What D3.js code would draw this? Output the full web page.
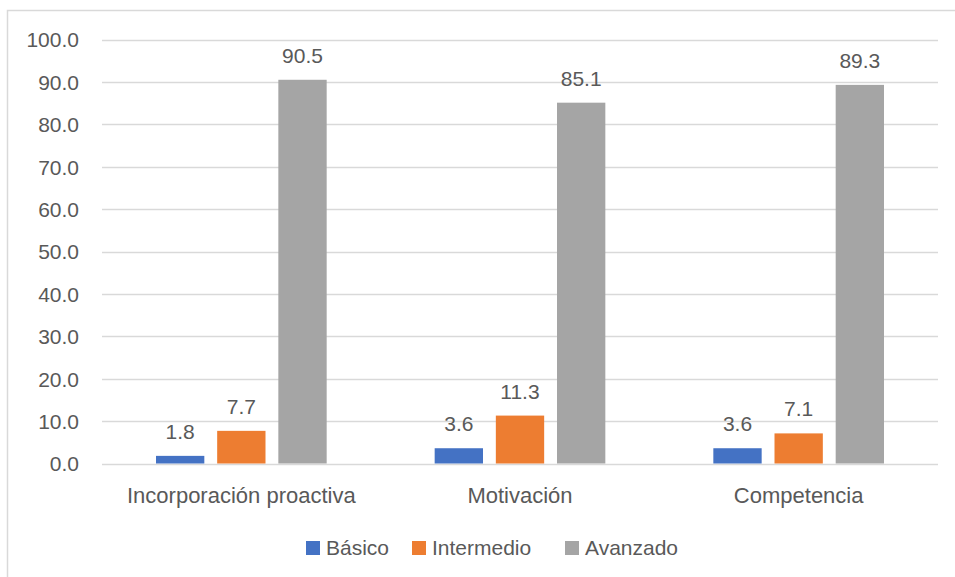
<!DOCTYPE html>
<html>
<head>
<meta charset="utf-8">
<script src="https://cdn.jsdelivr.net/npm/d3@7"></script>
<style>
  body { margin: 0; background: #fff; }
  text { font-family: "Liberation Sans", Arial, sans-serif; fill: #595959; }
</style>
</head>
<body>
<div id="chart"></div>
<script>
var categories = ["Incorporación proactiva", "Motivación", "Competencia"];
var seriesNames = ["Básico", "Intermedio", "Avanzado"];
var basico = [1.8, 3.6, 3.6];
var intermedio = [7.7, 11.3, 7.1];
var avanzado = [90.5, 85.1, 89.3];
var yTicks = [0, 10, 20, 30, 40, 50, 60, 70, 80, 90, 100];

// Colours per series.
var color = d3.scaleOrdinal()
  .domain(seriesNames)
  .range(["#4472C4", "#ED7D31", "#A5A5A5"]);

var width = 955;
var height = 577;
var margin = {top: 39, right: 17, bottom: 114, left: 102};

var svg = d3.select("#chart")
  .append("svg")
  .attr("width", width)
  .attr("height", height);

// Chart frame (cropped on the right and bottom like the picture).
svg.append("rect")
  .attr("x", 7.5)
  .attr("y", 10.5)
  .attr("width", 960)
  .attr("height", 580)
  .attr("fill", "none")
  .attr("stroke", "#d9d9d9")
  .attr("stroke-width", 1.5);

var plotW = width - margin.left - margin.right;
var plotH = height - margin.top - margin.bottom;
var g = svg.append("g")
  .attr("transform", "translate(" + margin.left + "," + margin.top + ")");

var y = d3.scaleLinear().domain([0, 100]).range([plotH + 0.5, 0.5]);
var x0 = d3.scaleBand().domain(categories).range([0, plotW]);
var outer = 54;
var x1 = d3.scaleBand()
  .domain(seriesNames)
  .range([outer, x0.bandwidth() - outer])
  .paddingInner(0.21);

// Gridlines.
g.selectAll(".grid")
  .data(yTicks)
  .enter()
  .append("line")
  .attr("x1", 0)
  .attr("x2", plotW)
  .attr("y1", function (d) { return Math.round(y(d)) + 0.5; })
  .attr("y2", function (d) { return Math.round(y(d)) + 0.5; })
  .attr("stroke", "#d9d9d9")
  .attr("stroke-width", 1.3);

// Y axis labels.
var yAxis = d3.axisLeft(y)
  .tickValues(yTicks)
  .tickFormat(d3.format(".1f"))
  .tickSize(0)
  .tickPadding(23);
var ya = g.append("g").call(yAxis);
ya.select(".domain").remove();
ya.selectAll("text")
  .style("font-size", "21px")
  .attr("fill", "#595959")
  .attr("dy", "0.35em");

// X axis labels.
var xAxis = d3.axisBottom(x0).tickSize(0).tickPadding(23);
var xa = g.append("g")
  .attr("transform", "translate(0," + (plotH + 1) + ")")
  .call(xAxis);
xa.select(".domain").remove();
xa.selectAll("text")
  .style("font-size", "22px")
  .attr("fill", "#595959");

var rows = categories.map(function (c, i) {
  return {category: c, values: [basico[i], intermedio[i], avanzado[i]]};
});

var groups = g.selectAll(".group")
  .data(rows)
  .enter()
  .append("g")
  .attr("class", "group")
  .attr("transform", function (d) { return "translate(" + x0(d.category) + ",0)"; });

var bars = groups.selectAll("g.bar")
  .data(function (d) {
    return d.values.map(function (v, j) { return {series: seriesNames[j], value: v}; });
  })
  .enter()
  .append("g")
  .attr("class", "bar");

bars.append("rect")
  .attr("x", function (d) { return x1(d.series); })
  .attr("y", function (d) { return y(d.value); })
  .attr("width", x1.bandwidth())
  .attr("height", function (d) { return y(0) - y(d.value); })
  .attr("fill", function (d) { return color(d.series); });

// Value labels.
bars.append("text")
  .attr("x", function (d) { return x1(d.series) + x1.bandwidth() / 2; })
  .attr("y", function (d) { return y(d.value) - 17; })
  .attr("text-anchor", "middle")
  .style("font-size", "21px")
  .text(function (d) { return d3.format(".1f")(d.value); });

// Legend.
var legendX = [306, 412, 565];
var legend = svg.selectAll(".legend")
  .data(seriesNames)
  .enter()
  .append("g")
  .attr("class", "legend")
  .attr("transform", function (d, i) { return "translate(" + legendX[i] + ",541)"; });

legend.append("rect")
  .attr("width", 14)
  .attr("height", 14)
  .attr("fill", function (d) { return color(d); });

legend.append("text")
  .attr("x", 20)
  .attr("y", 14)
  .style("font-size", "21px")
  .text(function (d) { return d; });
</script>
</body>
</html>
